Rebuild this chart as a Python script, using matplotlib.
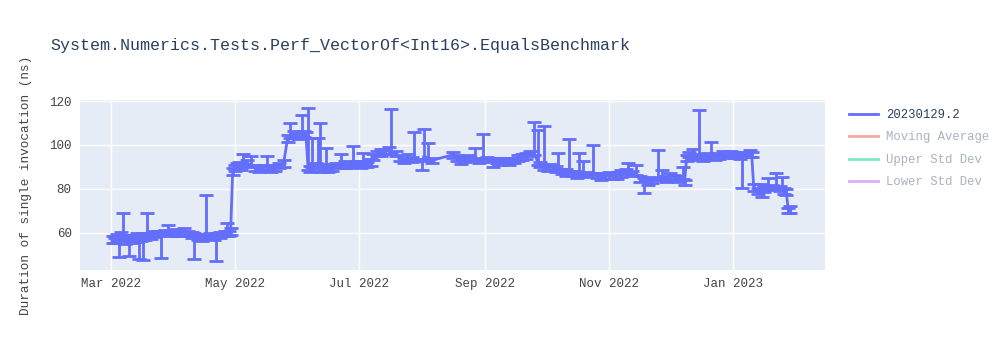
"""Benchmark history chart for Perf_VectorOf<Int16>.EqualsBenchmark."""

import pandas as pd
import matplotlib
matplotlib.use("Agg")
import matplotlib.pyplot as plt
import matplotlib.dates as mdates
from matplotlib.lines import Line2D

TITLE = "System.Numerics.Tests.Perf_VectorOf<Int16>.EqualsBenchmark"
Y_LABEL = "Duration of single invocation (ns)"
SERIES_NAME = "20230129.2"
HIDDEN_SERIES = ["Moving Average", "Upper Std Dev", "Lower Std Dev"]
HIDDEN_COLORS = ["#EF553B", "#00CC96", "#AB63FA"]

# run dates, duration (ns), upper / lower error (ns)
dates = [
    "2022-03-02", "2022-03-03", "2022-03-04", "2022-03-05", "2022-03-06", "2022-03-07",
    "2022-03-08", "2022-03-09", "2022-03-10", "2022-03-11", "2022-03-12", "2022-03-13",
    "2022-03-14", "2022-03-15", "2022-03-16", "2022-03-17", "2022-03-18", "2022-03-19",
    "2022-03-21", "2022-03-23", "2022-03-25", "2022-03-26", "2022-03-28", "2022-03-29",
    "2022-03-31", "2022-04-02", "2022-04-04", "2022-04-06", "2022-04-08", "2022-04-10",
    "2022-04-11", "2022-04-13", "2022-04-15", "2022-04-17", "2022-04-19", "2022-04-21",
    "2022-04-22", "2022-04-24", "2022-04-26", "2022-04-27", "2022-04-28", "2022-04-29",
    "2022-04-30", "2022-05-01", "2022-05-02", "2022-05-03", "2022-05-04", "2022-05-05",
    "2022-05-07", "2022-05-09", "2022-05-11", "2022-05-13", "2022-05-15", "2022-05-17",
    "2022-05-19", "2022-05-21", "2022-05-23", "2022-05-25",
    "2022-05-27", "2022-05-28", "2022-05-30", "2022-06-01", "2022-06-03", "2022-06-04",
    "2022-06-05",
    "2022-06-06", "2022-06-07", "2022-06-08", "2022-06-09", "2022-06-10", "2022-06-11",
    "2022-06-12", "2022-06-13", "2022-06-14", "2022-06-15", "2022-06-16", "2022-06-18",
    "2022-06-20", "2022-06-22", "2022-06-24", "2022-06-26", "2022-06-28", "2022-06-30",
    "2022-07-02", "2022-07-03", "2022-07-05", "2022-07-07",
    "2022-07-08", "2022-07-10", "2022-07-12", "2022-07-14", "2022-07-16", "2022-07-17",
    "2022-07-19", "2022-07-21", "2022-07-23", "2022-07-25", "2022-07-27", "2022-07-28",
    "2022-08-01", "2022-08-02", "2022-08-04", "2022-08-06",
    "2022-08-16", "2022-08-18", "2022-08-20", "2022-08-22", "2022-08-24", "2022-08-27",
    "2022-08-29", "2022-08-31", "2022-09-02", "2022-09-05", "2022-09-07", "2022-09-09",
    "2022-09-11", "2022-09-13", "2022-09-15", "2022-09-17", "2022-09-19", "2022-09-21",
    "2022-09-23", "2022-09-25",
    "2022-09-27", "2022-09-28", "2022-09-30", "2022-10-02", "2022-10-04", "2022-10-06",
    "2022-10-07", "2022-10-09", "2022-10-11", "2022-10-12", "2022-10-14", "2022-10-16",
    "2022-10-17", "2022-10-19", "2022-10-21", "2022-10-24", "2022-10-26", "2022-10-28",
    "2022-10-30", "2022-11-01", "2022-11-03", "2022-11-05",
    "2022-11-07", "2022-11-09", "2022-11-10", "2022-11-12", "2022-11-14", "2022-11-16",
    "2022-11-18", "2022-11-20", "2022-11-22", "2022-11-25", "2022-11-27", "2022-11-29",
    "2022-12-01", "2022-12-03", "2022-12-05", "2022-12-07", "2022-12-08",
    "2022-12-09", "2022-12-10", "2022-12-12", "2022-12-14", "2022-12-15", "2022-12-17",
    "2022-12-19", "2022-12-21", "2022-12-23", "2022-12-25", "2022-12-27", "2022-12-29",
    "2022-12-31", "2023-01-02", "2023-01-04", "2023-01-05", "2023-01-07", "2023-01-09",
    "2023-01-10",
    "2023-01-11", "2023-01-13", "2023-01-14", "2023-01-15", "2023-01-16", "2023-01-18",
    "2023-01-20", "2023-01-22", "2023-01-24", "2023-01-25", "2023-01-26", "2023-01-27",
    "2023-01-28", "2023-01-29",
]
durations = [
    57.0, 56.5, 58.0, 57.2, 59.0, 58.5,
    56.0, 57.5, 56.8, 57.5, 56.5, 57.0,
    58.5, 55.5, 57.5, 58.5, 58.0, 59.0,
    58.5, 59.5, 59.5, 59.5, 60.0, 60.5,
    59.8, 60.2, 59.5, 60.5, 59.8, 59.0,
    58.5, 58.0, 57.5, 59.0, 58.5, 58.0,
    58.5, 59.0, 59.5, 60.0, 59.5, 60.5,
    88.0, 89.5, 90.5, 91.0, 90.0, 92.0,
    91.5, 91.0, 89.5, 89.0, 89.5, 90.0,
    89.0, 89.5, 90.5, 91.5,
    103.0, 104.5, 105.0, 104.0, 105.5, 105.0,
    104.5,
    90.0, 89.0, 91.0, 89.5, 90.5, 92.0,
    91.0, 89.0, 90.0, 90.5, 89.0, 89.5,
    90.5, 91.0, 91.0, 90.5, 92.0, 91.5,
    91.0, 92.0, 91.0, 92.0,
    94.5, 96.0, 96.5, 97.0, 97.5, 97.0,
    96.0, 94.0, 93.0, 94.5, 93.5, 94.0,
    92.0, 95.0, 94.0, 93.0,
    95.5, 94.0, 93.0, 93.5, 94.0, 94.5,
    93.0, 94.0, 93.5, 92.5, 93.0, 92.5,
    93.0, 92.5, 93.0, 94.0, 94.5, 95.0,
    96.0, 96.5,
    92.0, 91.0, 90.0, 89.5, 90.0, 89.0,
    89.5, 88.0, 87.5, 88.5, 87.0, 86.5,
    87.5, 87.0, 86.5, 87.5, 86.0, 85.5,
    85.5, 86.0, 85.5, 86.0,
    87.0, 88.0, 88.5, 87.0, 87.5, 84.5,
    83.5, 83.0, 84.0, 85.0, 85.0, 84.5,
    85.5, 85.0, 84.5, 85.5, 83.0,
    94.0, 95.5, 95.0, 94.5, 95.5, 94.0,
    95.0, 95.5, 94.5, 95.0, 96.0, 95.5,
    96.0, 95.5, 95.0, 94.5, 95.5, 96.0,
    95.5,
    80.5, 79.0, 80.5, 78.5, 80.0, 81.0,
    80.5, 81.5, 80.0, 81.0, 79.0, 78.5,
    70.0, 70.5,
]
err_up = [
    1.5, 1.2, 1.5, 1.2, 1.5, 10.5,
    1.2, 1.5, 1.2, 1.5, 1.2, 1.2,
    1.5, 1.2, 1.5, 1.2, 1.2, 10.0,
    1.2, 1.5, 1.2, 1.2, 1.2, 3.1,
    1.2, 1.5, 1.2, 1.5, 1.2, 1.2,
    1.2, 1.5, 1.2, 18.0, 1.2, 1.2,
    1.2, 1.5, 1.2, 4.5, 1.2, 1.5,
    1.5, 1.2, 1.5, 1.2, 1.5, 4.0,
    1.5, 4.0, 1.2, 1.5, 1.2, 5.0,
    1.2, 1.5, 1.2, 1.5,
    1.5, 5.5, 1.2, 1.5, 8.1, 1.2,
    1.5,
    26.8, 1.2, 12.0, 1.5, 1.2, 11.0,
    19.0, 1.2, 1.5, 8.0, 1.2, 1.5,
    1.2, 5.0, 1.5, 1.2, 7.5, 1.2,
    1.5, 4.5, 1.2, 1.5,
    1.5, 1.2, 1.5, 1.2, 1.5, 19.4,
    1.2, 1.5, 1.2, 1.5, 1.2, 12.0,
    1.2, 12.3, 7.0, 1.2,
    1.5, 1.2, 1.5, 1.2, 1.5, 4.1,
    1.2, 11.0, 1.2, 1.5, 1.2, 1.5,
    1.2, 1.5, 1.2, 1.5, 1.2, 1.5,
    1.2, 14.0,
    15.0, 1.2, 18.6, 1.2, 1.5, 1.2,
    6.9, 1.2, 1.5, 14.2, 1.2, 1.5,
    8.9, 5.7, 1.2, 12.5, 1.2, 1.5,
    1.2, 1.5, 1.2, 1.5,
    1.5, 1.2, 3.5, 1.2, 3.5, 1.2,
    1.5, 1.2, 1.5, 12.7, 3.6, 1.2,
    1.5, 1.2, 1.5, 4.5, 1.2,
    1.5, 1.2, 3.0, 1.5, 20.5, 1.2,
    1.5, 5.9, 1.2, 1.5, 1.2, 1.5,
    1.2, 1.5, 1.2, 1.5, 1.2, 1.5,
    1.2,
    1.5, 1.2, 1.5, 1.2, 1.5, 4.0,
    1.2, 5.5, 1.2, 4.5, 1.2, 1.5,
    1.2, 1.5,
]
err_down = [
    1.5, 1.2, 1.5, 8.2, 1.5, 1.2,
    1.2, 1.5, 7.3, 1.5, 1.2, 1.2,
    1.5, 7.5, 1.5, 10.8, 1.2, 1.2,
    1.2, 1.5, 1.2, 10.9, 1.2, 1.2,
    1.2, 1.5, 1.2, 1.5, 1.2, 1.2,
    10.5, 1.5, 1.2, 1.2, 1.2, 1.2,
    11.5, 1.5, 1.2, 1.2, 1.2, 1.5,
    1.5, 1.2, 1.5, 1.2, 1.5, 1.2,
    1.5, 1.2, 1.2, 1.5, 1.2, 1.2,
    1.2, 1.5, 1.2, 1.5,
    1.5, 1.2, 1.2, 1.5, 1.2, 1.2,
    1.5,
    1.2, 1.2, 1.2, 1.5, 1.2, 1.2,
    1.2, 1.2, 1.5, 1.2, 1.2, 1.5,
    1.2, 1.2, 1.5, 1.2, 1.2, 1.2,
    1.5, 1.2, 1.2, 1.5,
    1.5, 1.2, 1.5, 1.2, 1.5, 1.2,
    1.2, 1.5, 1.2, 1.5, 1.2, 1.2,
    3.4, 1.2, 1.2, 1.2,
    1.5, 1.2, 1.5, 1.2, 1.5, 1.2,
    1.2, 1.2, 1.2, 2.5, 1.2, 1.5,
    1.2, 1.5, 1.2, 1.5, 1.2, 1.5,
    1.2, 1.2,
    1.2, 1.2, 1.2, 1.2, 1.5, 1.2,
    1.2, 1.2, 1.5, 1.2, 1.2, 1.5,
    1.2, 1.2, 1.2, 1.2, 1.2, 1.5,
    1.2, 1.5, 1.2, 1.5,
    1.5, 1.2, 1.2, 1.2, 1.2, 1.2,
    5.5, 1.2, 1.5, 1.2, 1.2, 1.2,
    1.5, 1.2, 1.5, 1.2, 1.2,
    1.5, 1.2, 1.2, 1.5, 1.2, 1.2,
    1.5, 1.2, 1.2, 1.5, 1.2, 1.5,
    1.2, 1.5, 1.2, 14.0, 1.2, 1.5,
    1.2,
    1.5, 1.2, 1.5, 2.1, 1.5, 1.2,
    1.2, 1.5, 1.2, 1.2, 1.2, 1.5,
    1.2, 1.5,
]

MONO = ["Liberation Mono", "DejaVu Sans Mono"]
TEXT_COLOR = "#2a3f5f"
TICK_COLOR = "#444444"
LINE_COLOR = "#636EFA"


def main():
    plt.rcParams["font.family"] = MONO

    x = pd.to_datetime(dates)

    fig = plt.figure(figsize=(10, 3.5), dpi=100)
    ax = fig.add_axes([0.08, 0.2286, 0.745, 0.4857])
    ax.set_facecolor("#E5ECF6")

    ax.errorbar(x, durations, yerr=[err_down, err_up], color=LINE_COLOR,
                ecolor=LINE_COLOR, linewidth=2.0, elinewidth=2.0,
                capsize=5, capthick=2.0, zorder=3)

    ax.set_xlim(pd.Timestamp("2022-02-14"), pd.Timestamp("2023-02-15"))
    ax.set_ylim(43, 120.5)
    ax.set_yticks([60, 80, 100, 120])
    ax.xaxis.set_major_locator(mdates.MonthLocator(bymonth=[1, 3, 5, 7, 9, 11]))
    ax.xaxis.set_major_formatter(mdates.DateFormatter("%b %Y"))

    ax.grid(True, color="white", linewidth=1.0, zorder=0)
    ax.set_axisbelow(True)
    for spine in ax.spines.values():
        spine.set_visible(False)
    ax.tick_params(length=0, labelsize=9, colors=TICK_COLOR, pad=6)

    ax.set_ylabel(Y_LABEL, fontsize=9.2, color=TICK_COLOR, labelpad=12)
    fig.text(0.05, 0.87, TITLE, fontsize=12, color=TEXT_COLOR, va="center")

    # legend: main series visible, others toggled off (faded)
    handles = [Line2D([], [], color=LINE_COLOR, linewidth=2)]
    handles += [Line2D([], [], color=c, linewidth=2, alpha=0.5) for c in HIDDEN_COLORS]
    labels = [SERIES_NAME] + HIDDEN_SERIES
    leg = fig.legend(handles, labels, loc="upper left", bbox_to_anchor=(0.838, 0.72),
                     frameon=False, fontsize=8.8, handlelength=2.4,
                     handletextpad=0.6, labelspacing=0.85)
    for i, txt in enumerate(leg.get_texts()):
        txt.set_color(TEXT_COLOR if i == 0 else "#aab2bf")

    fig.savefig("out.png", dpi=100)


if __name__ == "__main__":
    main()
